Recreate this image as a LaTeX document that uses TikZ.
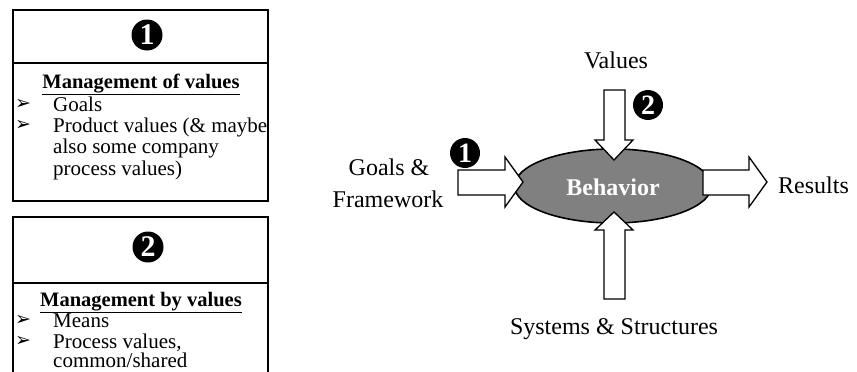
\documentclass[tikz,border=0pt]{standalone}
\usepackage{fontspec}
\setmainfont{Liberation Serif}
\newfontfamily\dejavu{DejaVu Sans}
\usetikzlibrary{shapes.geometric}
\tikzset{
  frame/.style={line width=1.6pt},
  numdot/.style={circle, fill=black, inner sep=0pt, minimum size=31pt, text=white, font=\fontsize{30}{30}\selectfont\bfseries},
  smalldot/.style={circle, fill=black, inner sep=0pt, minimum size=30pt, text=white, font=\fontsize{28}{28}\selectfont\bfseries},
  txt/.style={font=\fontsize{21}{21}\selectfont, inner sep=0pt},
  head/.style={font=\fontsize{20.5}{21}\selectfont\bfseries, inner sep=0pt},
  bul/.style={font=\dejavu\fontsize{19}{19}\selectfont, inner sep=0pt},
  blockarrow/.style={draw=black, fill=white, line width=1.3pt, line join=miter},
  lbl/.style={font=\fontsize{24}{31}\selectfont, inner sep=0pt}
}
\begin{document}
\begin{tikzpicture}[x=1pt,y=-1pt]
\useasboundingbox (0,0) rectangle (857,372);
% box 1
\draw[frame] (13,10) rectangle (268,201);
\draw[frame] (13,63) -- (268,63);
\node[numdot] (n1) at (147,35) {1};
\node[head, anchor=base] (h1) at (141,88) {\underline{Management of values}};
\node[bul, anchor=base west] (b11) at (15,109) {➢};
\node[txt, anchor=base west] (t11) at (53,111) {Goals};
\node[bul, anchor=base west] (b12) at (15,130) {➢};
\node[txt, anchor=base west] (t12) at (53,132) {Product values (\& maybe};
\node[txt, anchor=base west] (t13) at (53,153) {also some company};
\node[txt, anchor=base west] (t14) at (53,175) {process values)};
% box 2
\draw[frame] (13,380) -- (13,217) -- (268,217) -- (268,380);
\draw[frame] (13,283) -- (268,283);
\node[numdot] (n2) at (148,247) {2};
\node[head, anchor=base] (h2) at (141,306) {\underline{Management by values}};
\node[bul, anchor=base west] (b21) at (15,325) {➢};
\node[txt, anchor=base west] (t21) at (53,327) {Means};
\node[bul, anchor=base west] (b22) at (15,346) {➢};
\node[txt, anchor=base west] (t22) at (53,348) {Process values,};
\node[txt, anchor=base west] (t23) at (53,367) {common/shared};
% right diagram
\node[ellipse, draw=black, line width=1.6pt, fill=black!50, minimum width=197pt, minimum height=74pt, inner sep=0pt] (beh) at (613,186) {};
\node[font=\fontsize{24}{24}\selectfont\bfseries, text=white] (behtxt) at (613,187) {Behavior};
% left arrow
\draw[blockarrow] (458,170) -- (505,170) -- (505,157) -- (523,182) -- (505,207) -- (505,195) -- (458,195) -- cycle;
% right arrow
\draw[blockarrow] (703,170) -- (749,170) -- (749,157) -- (767,182) -- (749,207) -- (749,195) -- (703,195) -- cycle;
% top arrow
\draw[blockarrow] (604,90) -- (625,90) -- (625,140) -- (633,140) -- (614,160) -- (595,140) -- (604,140) -- cycle;
% bottom arrow
\draw[blockarrow] (604,299) -- (625,299) -- (625,230) -- (633,230) -- (614,212) -- (595,230) -- (604,230) -- cycle;
\node[smalldot] (r1) at (465,153) {1};
\node[smalldot] (r2) at (648,105) {2};
\node[lbl, anchor=base] (val) at (616,68) {Values};
\node[lbl, anchor=base] (goals1) at (389,175) {Goals \&};
\node[lbl, anchor=base] (goals2) at (388,207) {Framework};
\node[lbl, anchor=base west] (res) at (778,193) {Results};
\node[lbl, anchor=base] (sys) at (614,334) {Systems \& Structures};
\end{tikzpicture}
\end{document}
